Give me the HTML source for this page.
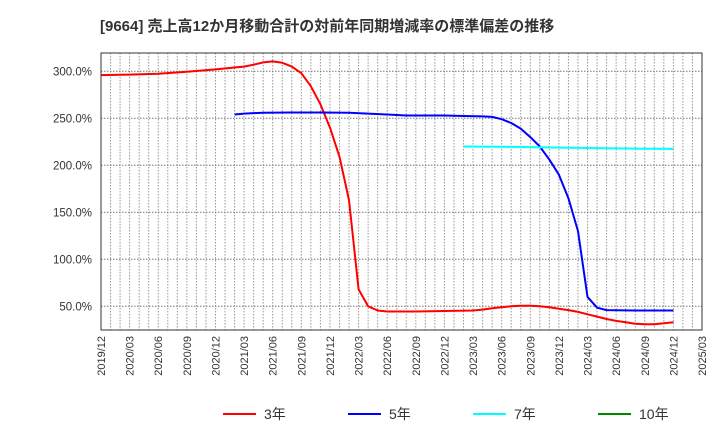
<!DOCTYPE html>
<html><head><meta charset="utf-8">
<style>
body{margin:0;background:#fff;}
svg{display:block;font-family:"Liberation Sans","Noto Sans CJK JP",sans-serif;}
</style></head>
<body>
<svg id="chart" width="720" height="440" xmlns="http://www.w3.org/2000/svg">
<text x="100" y="31" font-size="15" font-weight="bold" fill="#333">[9664]  売上高12か月移動合計の対前年同期増減率の標準偏差の推移</text>
<g id="grid"></g>
<g id="series"></g>
<rect x="101" y="53" width="601" height="277" fill="none" stroke="#333" stroke-width="1"/>
<g id="yt"></g><g id="xt"></g>
<g id="legend"></g>
</svg>
<script>
const yTicks=[50,100,150,200,250,300];
const xTickLabels=["2019/12","2020/03","2020/06","2020/09","2020/12","2021/03","2021/06","2021/09","2021/12","2022/03","2022/06","2022/09","2022/12","2023/03","2023/06","2023/09","2023/12","2024/03","2024/06","2024/09","2024/12","2025/03"];
const red3Months=[0,3,6,9,12,14,15,16,17,18,19,20,21,22,23,24,25,26,27,28,29,30,33,36,39,40,41,42,43,44,45,46,47,48,49,50,51,52,53,54,55,56,57,58,59,60];
const red3Values=[296,296.5,297.5,299.5,302,304,305,307,309.5,310.5,309,305,298,284,265,240,209,163,68,50,45.5,44.5,44.5,45,45.5,46.5,48,49,50,50.5,50.5,50,49,47.5,46,44,41.5,39,36.5,34.5,33,31.5,31,31,32,33];
const blue5Months=[14,15,16,17,20,23,26,28,30,32,34,36,38,40,41,42,43,44,45,46,47,48,49,50,51,52,53,56,60];
const blue5Values=[254,255,255.5,256,256.2,256.2,256,255,254,253,253,253,252.5,252,251.5,249,245,239,230,220,206,190,165,130,60,48.5,46,45.5,45.5];
const cyan7Months=[38,44,50,56,60];
const cyan7Values=[220,219.5,218.5,217.8,217.5];
const NS="http://www.w3.org/2000/svg";
const X0=101,X1=702,MT=63;
const xs=m=>X0+(X1-X0)*m/MT;
const ys=v=>306.3-(v-50)*0.94;
function mk(t,a,p){const e=document.createElementNS(NS,t);for(const k in a)e.setAttribute(k,a[k]);p.appendChild(e);return e;}
const grid=document.getElementById('grid');
for(let m=1;m<MT;m++){const l=mk('line',{x1:xs(m),x2:xs(m),y1:53,y2:330,stroke:'#999','stroke-dasharray':'1.5,1.5','stroke-width':1},grid);

}
const yt=document.getElementById('yt');
yTicks.forEach(v=>{const l=mk('line',{x1:X0,x2:X1,y1:ys(v),y2:ys(v),stroke:'#777','stroke-dasharray':'1.5,1.5','stroke-width':1},grid);


const t=mk('text',{x:92,y:ys(v)+4,'text-anchor':'end','font-size':11.5,fill:'#333'},yt);t.textContent=v.toFixed(1)+'%';

});
const xt=document.getElementById('xt');
xTickLabels.forEach((s,i)=>{const x=xs(i*3);const t=mk('text',{x:0,y:0,transform:`translate(${x+4},${336}) rotate(-90)`,'text-anchor':'end','font-size':11,fill:'#333'},xt);t.textContent=s;

});
const ser=document.getElementById('series');
function line(ms,vs,c,name){const d=ms.map((m,i)=>(i?'L':'M')+xs(m).toFixed(1)+','+ys(vs[i]).toFixed(1)).join('');
const p=mk('path',{d:d,fill:'none',stroke:c,'stroke-width':2,'stroke-linejoin':'round'},ser);

}
line(red3Months,red3Values,'#f00','series-3yr');
line(blue5Months,blue5Values,'#00f','series-5yr');
line(cyan7Months,cyan7Values,'#0ff','series-7yr');
const lg=document.getElementById('legend');
[['3年','#f00',223],['5年','#00f',348],['7年','#0ff',473],['10年','#080',598]].forEach(([s,c,x])=>{
const g=mk('g',{},lg);


mk('line',{x1:x,x2:x+33,y1:414,y2:414,stroke:c,'stroke-width':2},g);
const t=mk('text',{x:x+41,y:419,'font-size':14,fill:'#333'},g);t.textContent=s;});
</script>
</body></html>
